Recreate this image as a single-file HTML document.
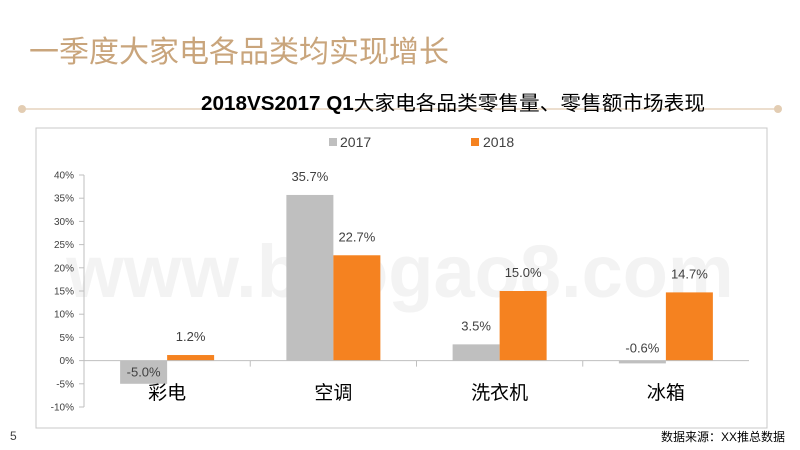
<!DOCTYPE html>
<html><head><meta charset="utf-8"><style>
body{margin:0;width:800px;height:450px;background:#fff;overflow:hidden;font-family:"Liberation Sans","Noto Sans CJK SC",sans-serif;position:relative}
.t{position:absolute;white-space:nowrap}
</style></head><body>
<div class="t" style="left:29px;top:27px;font-size:30px;color:#c9a57c">一季度大家电各品类均实现增长</div>
<svg class="t" style="left:0;top:0" width="800" height="450">
<line x1="22" y1="109" x2="778" y2="109" stroke="#e6d3bd" stroke-width="1.5"/>
<circle cx="22" cy="109" r="4" fill="#e3cdb3"/><circle cx="778" cy="109" r="4" fill="#e3cdb3"/>
<rect x="36" y="128" width="731" height="300" fill="none" stroke="#c8c8c8"/>
<text x="201" y="110" font-size="20" font-weight="bold" fill="#000" textLength="504" lengthAdjust="spacingAndGlyphs">2018VS2017 Q1<tspan font-weight="normal">大家电各品类零售量、零售额市场表现</tspan></text>
<text x="400" y="297" font-size="74" font-weight="bold" fill="#f3f3f3" text-anchor="middle">www.baogao8.com</text>
<g id="plot"></g>
<rect x="329" y="138" width="8" height="8" fill="#bfbfbf"/>
<text x="340" y="147" font-size="14" fill="#404040">2017</text>
<rect x="471" y="138" width="8" height="8" fill="#f58220"/>
<text x="483" y="147" font-size="14" fill="#404040">2018</text>
<text x="10" y="440" font-size="12" fill="#404040">5</text>
<text x="785" y="441" font-size="12" fill="#000" text-anchor="end">数据来源：XX推总数据</text>
</svg>
<script>
const categories=["彩电","空调","洗衣机","冰箱"];
const s2017=[-5.0,35.7,3.5,-0.6];
const s2018=[1.2,22.7,15.0,14.7];
const ticks=[40,35,30,25,20,15,10,5,0,-5,-10];
const NS="http://www.w3.org/2000/svg";
const g=document.getElementById("plot");
const x0=84,x1=749,yTop=175,yBot=407,vMax=40,vMin=-10;
const y=v=>yTop+(vMax-v)*(yBot-yTop)/(vMax-vMin);
const cw=(x1-x0)/categories.length;
function el(t,a,txt){const e=document.createElementNS(NS,t);for(const k in a)e.setAttribute(k,a[k]);if(txt!=null)e.textContent=txt;g.appendChild(e);return e;}
function ly(v){ if(v>=0) return y(v)-14; return (y(v)-y(0)>15)? y(0)+16 : y(0)-8; }
let ax=el("line",{x1:x0,y1:yTop,x2:x0,y2:yBot,stroke:"#bfbfbf"});


ticks.forEach(t=>{
 el("line",{x1:x0-5,y1:y(t),x2:x0,y2:y(t),stroke:"#bfbfbf"});
 let tx=el("text",{x:x0-10,y:y(t)+3.5,"font-size":10,fill:"#404040","text-anchor":"end"},t+"%");
 
 
});
categories.forEach((c,i)=>{
 const cx=x0+cw*(i+0.5),bw=47;
 const a=s2017[i],b=s2018[i];
 let r1=el("rect",{x:cx-bw,y:Math.min(y(a),y(0)),width:bw,height:Math.abs(y(a)-y(0)),fill:"#bfbfbf"});
 
 
 let r2=el("rect",{x:cx,y:Math.min(y(b),y(0)),width:bw,height:Math.abs(y(b)-y(0)),fill:"#f58220"});
 
 
 let t1=el("text",{x:cx-bw/2,y:ly(a),"font-size":13,fill:"#404040","text-anchor":"middle"},a.toFixed(1)+"%");
 
 
 let t2=el("text",{x:cx+bw/2,y:ly(b),"font-size":13,fill:"#404040","text-anchor":"middle"},b.toFixed(1)+"%");
 
 
 let ct=el("text",{x:cx,y:399,"font-size":19,fill:"#000","text-anchor":"middle"},c);
 
 
 if(i>0) el("line",{x1:x0+cw*i,y1:y(0),x2:x0+cw*i,y2:y(0)+6,stroke:"#bfbfbf"});
});
let zl=el("line",{x1:x0,y1:y(0),x2:x1,y2:y(0),stroke:"#bfbfbf"});


</script>
</body></html>
